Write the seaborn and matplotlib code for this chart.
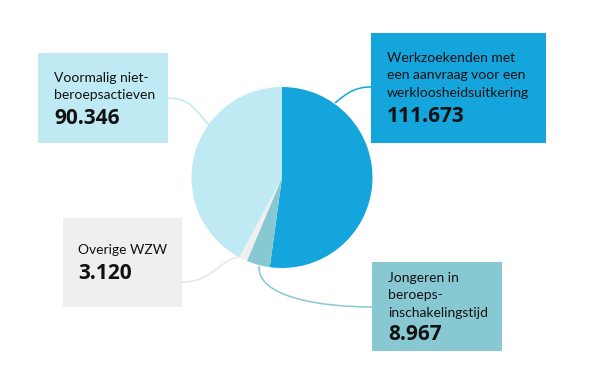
import matplotlib
matplotlib.use("Agg")
import matplotlib.pyplot as plt
import seaborn as sns
from matplotlib.patches import Rectangle, PathPatch
from matplotlib.path import Path

# ---- data ----
categories = ["Werkzoekenden met\neen aanvraag voor een\nwerkloosheidsuitkering",
              "Jongeren in\nberoeps-\ninschakelingstijd",
              "Overige WZW",
              "Voormalig niet-\nberoepsactieven"]
values = [111673, 8967, 3120, 90346]
value_labels = ["111.673", "8.967", "3.120", "90.346"]
colors = ["#14a5dc", "#88c8d2", "#efefef", "#bfeaf4"]

sns.set_theme(style="white")
plt.rcParams['font.family'] = ['Lato', 'DejaVu Sans']

W, H = 595, 382
fig = plt.figure(figsize=(W / 100, H / 100), dpi=100)
ax = fig.add_axes([0, 0, 1, 1])

def Y(py):
    return H - py

cx, cy, r = 282, 177.5, 90.5
ax.pie(values, colors=colors, startangle=90, counterclock=False,
       center=(cx, Y(cy)), radius=r, frame=True,
       wedgeprops=dict(linewidth=0))

# boxes: (x0, y0, x1, y1) in pixel coords (y down)
boxes = [(371, 33, 546, 143), (372, 262, 502, 351), (63, 218, 182, 307), (38, 53, 168, 143)]
text_x = [387, 388, 78, 54]
first_base = [62, 282, 254, 82]
num_base = [122, 340, 279, 124]
line_h = 17.3

for i in range(len(values)):
    x0, y0, x1, y1 = boxes[i]
    ax.add_patch(Rectangle((x0, Y(y1)), x1 - x0, y1 - y0, facecolor=colors[i],
                           edgecolor="none", zorder=3))
    lines = categories[i].split("\n")
    for j, ln in enumerate(lines):
        ax.text(text_x[i], Y(first_base[i] + j * line_h), ln, fontsize=10,
                color="#111111", va="baseline", ha="left", zorder=4)
    ax.text(text_x[i], Y(num_base[i]), value_labels[i], fontsize=15,
            fontweight="bold", family=["Open Sans", "DejaVu Sans"],
            color="#111111", va="baseline", ha="left", zorder=4)

# connectors (cubic bezier)
connectors = [
    [(335, 103), (348, 92), (356, 87), (371, 87)],
    [(259, 266), (257, 297), (320, 307), (372, 307)],
    [(240, 257), (220, 258), (214, 282), (182, 282)],
    [(209, 125), (195, 110), (190, 98), (168, 98)],
]
for i, pts in enumerate(connectors):
    verts = [(x, Y(y)) for x, y in pts]
    path = Path(verts, [Path.MOVETO, Path.CURVE4, Path.CURVE4, Path.CURVE4])
    ax.add_patch(PathPatch(path, facecolor="none", edgecolor=colors[i] if i != 2 else "#e6e6e6",
                           linewidth=1.1, zorder=2))

ax.set_xlim(0, W)
ax.set_ylim(0, H)
ax.set_aspect("auto")
ax.axis("off")
fig.savefig("out.png", dpi=100, facecolor="white")
